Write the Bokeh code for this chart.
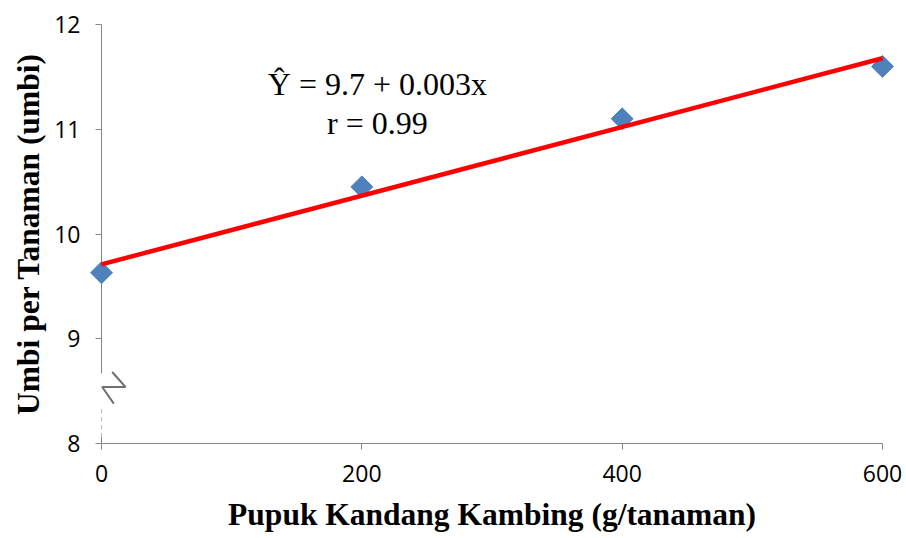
import numpy as np
from bokeh.plotting import figure
from bokeh.models import Range1d, FixedTicker
from bokeh.embed import file_html
from bokeh.resources import INLINE
from bokeh.core.properties import value

# ---- data ----
dose = [0, 200, 400, 600]                 # g/tanaman
umbi = [9.63, 10.45, 11.10, 11.60]        # umbi per tanaman
x_ticks = [0, 200, 400, 600]
y_ticks = [8, 9, 10, 11, 12]
intercept = 9.71
slope = 0.00328
eq_lines = ["\u0176 = 9.7 + 0.003x", "r = 0.99"]
eq_x = 212
eq_y = [11.43, 11.06]
x_title = "Pupuk Kandang Kambing (g/tanaman)"
y_title = "Umbi per Tanaman (umbi)"

X0, X1, Y0, Y1 = 0, 600, 8, 12
W, H = 906, 538
L, R, T, B = 101, 24, 24, 95

p = figure(width=W, height=H, output_backend="svg", toolbar_location=None,
           x_range=Range1d(X0, X1), y_range=Range1d(Y0, Y1),
           min_border_left=L, min_border_right=R, min_border_top=T, min_border_bottom=B)
p.outline_line_color = None
p.grid.visible = False
p.background_fill_color = "white"
p.border_fill_color = "white"

p.xaxis.ticker = FixedTicker(ticks=x_ticks)
p.yaxis.ticker = FixedTicker(ticks=y_ticks)
for ax in (p.xaxis[0], p.yaxis[0]):
    ax.axis_line_color = "#868686"
    ax.axis_line_width = 1
    ax.major_tick_line_color = "#868686"
    ax.major_tick_out = 6
    ax.major_tick_in = 0
    ax.minor_tick_line_color = None
    ax.major_label_text_font = "Open Sans"
    ax.major_label_text_font_size = "23px"
    ax.major_label_text_color = "black"
    ax.axis_label_text_font = "Liberation Serif"
    ax.axis_label_text_font_style = "bold"
    ax.axis_label_text_font_size = "31.5px"
    ax.axis_label_text_color = "black"
p.xaxis.axis_label = x_title
p.yaxis.axis_label = y_title
p.xaxis.major_label_standoff = 15
p.yaxis.major_label_standoff = 15
p.xaxis.axis_label_standoff = 12
p.yaxis.axis_label_standoff = 5

# pixel -> data helpers
fw = W - L - R
fh = H - T - B
dxp = (X1 - X0) / fw
dyp = (Y1 - Y0) / fh

# axis break (decoration)
brk_top = 8.67
brk_bot = 8.06
p.segment(x0=[X0], y0=[brk_bot], x1=[X0], y1=[brk_top], line_color="white", line_width=4, level="overlay")
p.segment(x0=[X0], y0=[brk_bot], x1=[X0], y1=[brk_bot + 30 * dyp], line_color="#b0b0b0",
          line_width=1, line_dash="4 4", level="overlay")
zx = [X0 + 10.7 * dxp, X0 + 24 * dxp, X0 + 0.7 * dxp, X0 + 12.3 * dxp]
zy = [brk_top + 1.3 * dyp, brk_top - 13.7 * dyp, brk_top - 13.7 * dyp, brk_top - 30.3 * dyp]
p.line(zx, zy, line_color="#707070", line_width=2, level="overlay")

# data points
p.scatter(dose, umbi, marker="square", size=15.5, angle=np.pi / 4,
          fill_color="#4F81BD", line_color="#4F81BD", level="overlay")

# regression line
lx = np.array([min(dose), max(dose)], dtype=float)
ly = intercept + slope * lx
p.line(lx, ly, line_color="#FF0000", line_width=4.5, level="overlay")

# equation
p.text(x=[eq_x] * len(eq_lines), y=eq_y, text=eq_lines,
       text_font=value("Liberation Serif"), text_font_size="32px",
       text_align="center", text_baseline="middle", text_color="black")

open("out.html", "w").write(file_html(p, INLINE))
